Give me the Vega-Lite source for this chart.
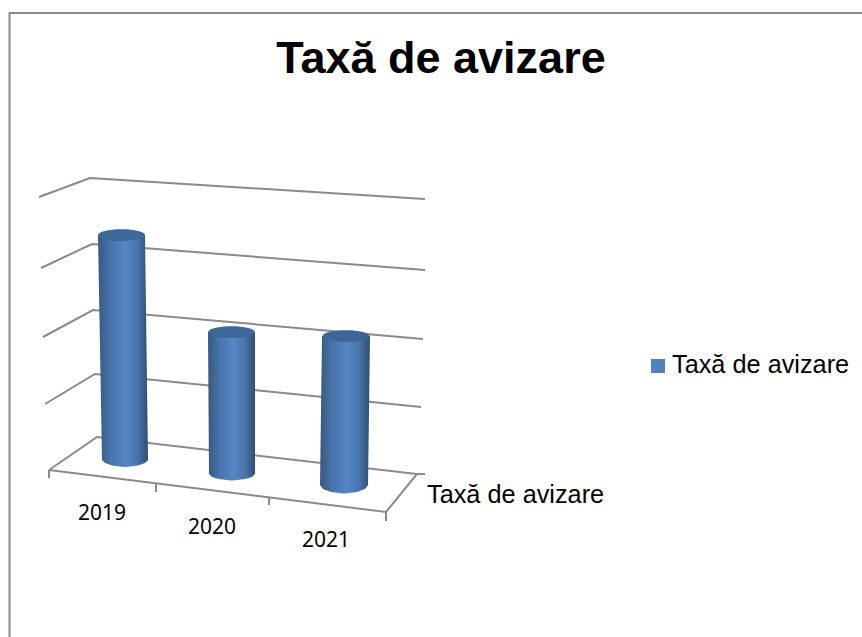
{
"$schema":"https://vega.github.io/schema/vega-lite/v6.json",
"width":862,"height":637,"padding":0,"autosize":{"type":"none"},"background":"white",
"title":{"text":"Taxă de avizare","font":"Liberation Sans","fontSize":45,"fontWeight":"bold","color":"#000000","anchor":"middle","dx":10,"offset":-118,"baseline":"alphabetic"},
"config":{"view":{"stroke":null}},
"datasets":{
"lines":[
{"id":"border","o":0,"x":9.5,"y":637},{"id":"border","o":1,"x":9.5,"y":13},{"id":"border","o":2,"x":862,"y":13},
{"id":"g4","o":0,"x":39,"y":197},{"id":"g4","o":1,"x":90,"y":178},{"id":"g4","o":2,"x":425,"y":199},
{"id":"g3","o":0,"x":41,"y":268},{"id":"g3","o":1,"x":92,"y":244},{"id":"g3","o":2,"x":425,"y":270},
{"id":"g2","o":0,"x":43,"y":337},{"id":"g2","o":1,"x":93,"y":310},{"id":"g2","o":2,"x":423,"y":339},
{"id":"g1","o":0,"x":45,"y":404},{"id":"g1","o":1,"x":95,"y":374},{"id":"g1","o":2,"x":421,"y":407},
{"id":"g0","o":0,"x":49,"y":470},{"id":"g0","o":1,"x":97,"y":437},{"id":"g0","o":2,"x":417,"y":474},{"id":"g0","o":3,"x":386,"y":512},{"id":"g0","o":4,"x":49,"y":470},
{"id":"e","o":0,"x":417,"y":474},{"id":"e","o":1,"x":425,"y":474},
{"id":"t0","o":0,"x":49,"y":470},{"id":"t0","o":1,"x":49,"y":478},
{"id":"t1","o":0,"x":156,"y":484},{"id":"t1","o":1,"x":156,"y":492},
{"id":"t2","o":0,"x":269,"y":498},{"id":"t2","o":1,"x":269,"y":505},
{"id":"t3","o":0,"x":386,"y":512},{"id":"t3","o":1,"x":386,"y":521}
],
"cylinders":[
{"year":"2019","y":235,"x":98,"x2":145},{"year":"2019","y":460,"x":102,"x2":148},{"year":"2019","y":463,"x":105,"x2":145},{"year":"2019","y":465.5,"x":112,"x2":138},{"year":"2019","y":467,"x":124,"x2":126},
{"year":"2020","y":332,"x":208,"x2":255},{"year":"2020","y":474,"x":209,"x2":255},{"year":"2020","y":477,"x":212,"x2":252},{"year":"2020","y":479,"x":219,"x2":245},{"year":"2020","y":480.5,"x":231,"x2":233},
{"year":"2021","y":336,"x":322,"x2":370},{"year":"2021","y":485,"x":320,"x2":368},{"year":"2021","y":489,"x":323,"x2":365},{"year":"2021","y":492,"x":331,"x2":357},{"year":"2021","y":493.5,"x":343,"x2":345}
],
"tops":[{"year":"2019","x":121.5,"y":235},{"year":"2020","x":231.5,"y":332},{"year":"2021","x":346,"y":336}],
"labels":[{"t":"2019","x":102,"y":514},{"t":"2020","x":212,"y":528},{"t":"2021","x":326,"y":541}],
"series":[{"t":"Taxă de avizare","x":427,"y":495}],
"legend":[{"t":"Taxă de avizare","x":672,"y":365,"sx":658,"sy":366}]
},
"encoding":{},
"layer":[
{"data":{"name":"lines"},"mark":{"type":"line","color":"#8a8a8a","strokeWidth":2,"interpolate":"linear"},
 "encoding":{"x":{"field":"x","type":"quantitative","scale":{"domain":[0,862]},"axis":null},"y":{"field":"y","type":"quantitative","scale":{"domain":[637,0]},"axis":null},"detail":{"field":"id"},"order":{"field":"o"}}},
{"data":{"name":"cylinders"},"mark":{"type":"area","orient":"horizontal","interpolate":"linear","color":{"gradient":"linear","x1":0,"x2":1,"y1":0,"y2":0,"stops":[{"offset":0,"color":"#38597f"},{"offset":0.25,"color":"#4774ab"},{"offset":0.55,"color":"#5587c8"},{"offset":0.8,"color":"#4673a8"},{"offset":1,"color":"#2f4d73"}]}},
 "encoding":{"y":{"field":"y","type":"quantitative","scale":{"domain":[637,0]},"axis":null},"x":{"field":"x","type":"quantitative","scale":{"domain":[0,862]},"axis":null},"x2":{"field":"x2"},"detail":{"field":"year"}}},
{"data":{"name":"tops"},"mark":{"type":"point","filled":true,"opacity":1,"size":2209,"color":"#3c6797","shape":"M -1 0 A 1 0.25 0 1 1 1 0 A 1 0.25 0 1 1 -1 0 Z"},
 "encoding":{"x":{"field":"x","type":"quantitative","scale":{"domain":[0,862]},"axis":null},"y":{"field":"y","type":"quantitative","scale":{"domain":[637,0]},"axis":null}}},
{"data":{"name":"labels"},"mark":{"type":"text","font":"Noto Sans","fontSize":21,"color":"#000000","align":"center","baseline":"middle"},
 "encoding":{"x":{"field":"x","type":"quantitative","scale":{"domain":[0,862]},"axis":null},"y":{"field":"y","type":"quantitative","scale":{"domain":[637,0]},"axis":null},"text":{"field":"t"}}},
{"data":{"name":"series"},"mark":{"type":"text","font":"Liberation Sans","fontSize":25.3,"color":"#000000","align":"left","baseline":"middle"},
 "encoding":{"x":{"field":"x","type":"quantitative","scale":{"domain":[0,862]},"axis":null},"y":{"field":"y","type":"quantitative","scale":{"domain":[637,0]},"axis":null},"text":{"field":"t"}}},
{"data":{"name":"legend"},"mark":{"type":"text","font":"Liberation Sans","fontSize":25.3,"color":"#000000","align":"left","baseline":"middle"},
 "encoding":{"x":{"field":"x","type":"quantitative","scale":{"domain":[0,862]},"axis":null},"y":{"field":"y","type":"quantitative","scale":{"domain":[637,0]},"axis":null},"text":{"field":"t"}}},
{"data":{"name":"legend"},"mark":{"type":"point","shape":"square","filled":true,"opacity":1,"size":196,"color":"#4f81bd"},
 "encoding":{"x":{"field":"sx","type":"quantitative","scale":{"domain":[0,862]},"axis":null},"y":{"field":"sy","type":"quantitative","scale":{"domain":[637,0]},"axis":null}}}
]
}
